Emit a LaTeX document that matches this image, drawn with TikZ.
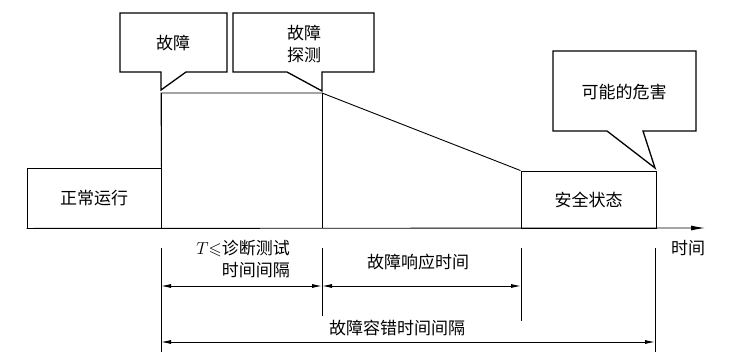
\documentclass[tikz,border=0pt]{standalone}
\usepackage{fontspec}
\usepackage{amssymb}
\newfontfamily\cjk{Noto Sans CJK SC}
\usetikzlibrary{arrows.meta,positioning,calc}
\tikzset{callout/.style={draw=black,line width=1.3pt,line join=miter},level/.style={draw=black,line width=0.9pt},tickline/.style={draw=black,line width=0.9pt},span/.style={draw=black,line width=0.9pt,{Latex[length=10pt,width=4pt]}-{Latex[length=10pt,width=4pt]}},caption/.style={font=\cjk\fontsize{17}{22}\selectfont,text=black,inner sep=0pt,align=center},statebox/.style={caption,draw=black,line width=0.9pt}}
\begin{document}
\begin{tikzpicture}[x=1pt,y=-1pt]
\useasboundingbox (0,0) rectangle (738,359);
% callouts
\draw[callout] (120,13) -- (227,13) -- (227,72) -- (186,72) -- (161,90) -- (161,72) -- (120,72) -- cycle;
\draw[callout] (233,13) -- (374,13) -- (374,72) -- (322,72) -- (322,91) -- (287,72) -- (233,72) -- cycle;
\draw[callout] (553,51) -- (696,51) -- (696,131) -- (643,131) -- (655,168) -- (607,131) -- (553,131) -- cycle;
\node[caption] (fault) at (173,43) {故障};
\node[caption] (detect) at (304,44) {故障\\探测};
\node[caption] (hazard) at (624,92) {可能的危害};
% states
\node[statebox,minimum width=134pt,minimum height=60pt] (normal) at (94,198) {正常运行};
\node[statebox,minimum width=135pt,minimum height=57pt] (safe) at (588.5,199.5) {安全状态};
\coordinate (f0) at (161,93);
\coordinate (f1) at (322,93);
\draw[level] (normal.north east) -- (f0) -- (f1) -- (safe.north west);
\draw[level] (f0) -- (f0 |- normal.south);
\draw[level] (f1) -- (f1 |- normal.south);
\draw[level,-{Latex[length=14pt,width=5pt]}] (normal.south west) -- (705,228);
\node[caption] (time) at (688,248) {时间};
% intervals
\coordinate (a0) at (161,286);
\coordinate (a1) at (322,286);
\coordinate (a2) at (521,286);
\coordinate (b0) at (161,342);
\coordinate (b1) at (655,342);
\draw[tickline] (161,248) -- (161,352);
\draw[tickline] (322,248) -- (322,316);
\draw[tickline] (521,248) -- (521,321);
\draw[tickline] (655,248) -- (655,352);
\draw[span] (a0) -- (a1);
\draw[span] (a1) -- (a2);
\draw[span] (b0) -- (b1);
\node[caption,align=right,anchor=east] (diag) at (290,259) {$T{\leqslant}$诊断测试\\时间间隔};
\node[caption] (resp) at (418,262) {故障响应时间};
\node[caption] (tol) at (397,328) {故障容错时间间隔};
\end{tikzpicture}
\end{document}
